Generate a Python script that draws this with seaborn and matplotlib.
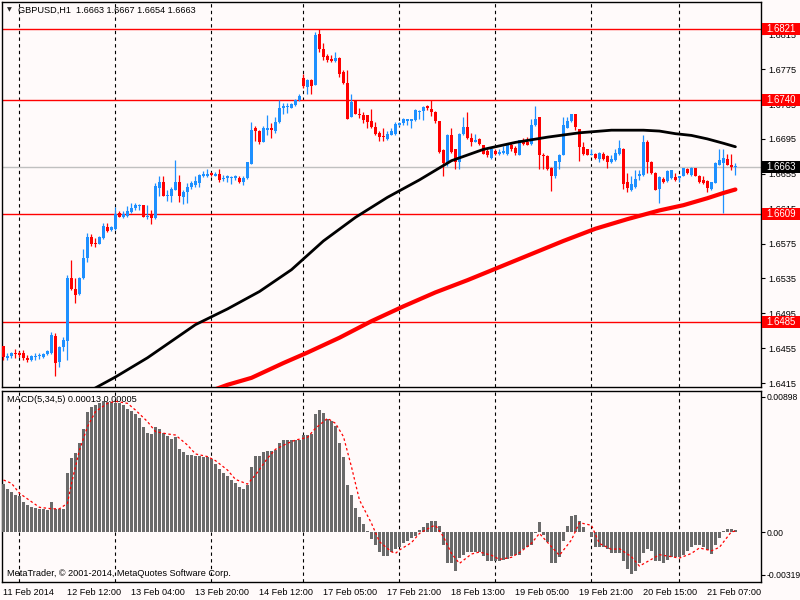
import matplotlib
matplotlib.use("Agg")
import matplotlib.pyplot as plt
import matplotlib.transforms as mtransforms
from matplotlib.patches import Rectangle
import numpy as np
import pandas as pd
import seaborn as sns

# ---- DATA (GBPUSD H1) ----
bar_open = [
    1.6457, 1.6444, 1.6446, 1.6450, 1.6450, 1.6449, 1.6444, 1.6441, 1.6445, 1.6446, 1.6445, 1.6448,
    1.6449, 1.6469, 1.6439, 1.6456, 1.6463, 1.6535, 1.6523, 1.6517, 1.6535, 1.6558, 1.6583, 1.6576,
    1.6574, 1.6581, 1.6594, 1.6590, 1.6592, 1.6610, 1.6606, 1.6607, 1.6611, 1.6616, 1.6618, 1.6619,
    1.6606, 1.6609, 1.6604, 1.6639, 1.6646, 1.6629, 1.6630, 1.6636, 1.6646, 1.6628, 1.6634, 1.6640,
    1.6642, 1.6645, 1.6652, 1.6652, 1.6656, 1.6653, 1.6655, 1.6649, 1.6650, 1.6650, 1.6650, 1.6650,
    1.6646, 1.6650, 1.6666, 1.6707, 1.6704, 1.6691, 1.6705, 1.6707, 1.6704, 1.6714, 1.6731, 1.6732,
    1.6731, 1.6734, 1.6740, 1.6765, 1.6755, 1.6763, 1.6757, 1.6815, 1.6798, 1.6790, 1.6787, 1.6784,
    1.6788, 1.6772, 1.6759, 1.6720, 1.6738, 1.6724, 1.6722, 1.6722, 1.6716, 1.6709, 1.6702, 1.6698,
    1.6695, 1.6700, 1.6701, 1.6711, 1.6713, 1.6716, 1.6716, 1.6717, 1.6726, 1.6727, 1.6733, 1.6729,
    1.6726, 1.6716, 1.6682, 1.6666, 1.6699, 1.6683, 1.6669, 1.6701, 1.6709, 1.6696, 1.6692, 1.6695,
    1.6688, 1.6681, 1.6673, 1.6681, 1.6678, 1.6679, 1.6678, 1.6688, 1.6685, 1.6677, 1.6694, 1.6691,
    1.6689, 1.6711, 1.6720, 1.6677, 1.6675, 1.6662, 1.6652, 1.6669, 1.6677, 1.6708, 1.6715, 1.6724,
    1.6706, 1.6686, 1.6683, 1.6677, 1.6678, 1.6672, 1.6678, 1.6675, 1.6668, 1.6671, 1.6678, 1.6684,
    1.6646, 1.6636, 1.6640, 1.6652, 1.6654, 1.6692, 1.6669, 1.6656, 1.6638, 1.6649, 1.6647, 1.6650,
    1.6651, 1.6650, 1.6652, 1.6660, 1.6654, 1.6662, 1.6653, 1.6648, 1.6647, 1.6637, 1.6645, 1.6665,
    1.6667, 1.6672, 1.6665, 1.6663,
]
bar_high = [
    1.6458, 1.6449, 1.6451, 1.6454, 1.6452, 1.6453, 1.6447, 1.6447, 1.6449, 1.6449, 1.6450, 1.6453,
    1.6473, 1.6472, 1.6458, 1.6468, 1.6539, 1.6556, 1.6535, 1.6537, 1.6569, 1.6587, 1.6586, 1.6581,
    1.6584, 1.6598, 1.6598, 1.6595, 1.6617, 1.6612, 1.6612, 1.6618, 1.6622, 1.6622, 1.6620, 1.6619,
    1.6619, 1.6613, 1.6644, 1.6652, 1.6652, 1.6636, 1.6640, 1.6671, 1.6654, 1.6636, 1.6644, 1.6647,
    1.6652, 1.6655, 1.6658, 1.6661, 1.6657, 1.6657, 1.6661, 1.6654, 1.6654, 1.6653, 1.6654, 1.6653,
    1.6652, 1.6668, 1.6714, 1.6710, 1.6705, 1.6710, 1.6722, 1.6713, 1.6720, 1.6740, 1.6736, 1.6736,
    1.6736, 1.6741, 1.6746, 1.6769, 1.6764, 1.6764, 1.6818, 1.6821, 1.6805, 1.6792, 1.6791, 1.6795,
    1.6789, 1.6774, 1.6774, 1.6746, 1.6740, 1.6730, 1.6726, 1.6722, 1.6729, 1.6714, 1.6704, 1.6707,
    1.6704, 1.6707, 1.6714, 1.6714, 1.6719, 1.6718, 1.6718, 1.6729, 1.6728, 1.6733, 1.6734, 1.6740,
    1.6727, 1.6716, 1.6683, 1.6701, 1.6707, 1.6684, 1.6702, 1.6720, 1.6726, 1.6702, 1.6701, 1.6696,
    1.6688, 1.6683, 1.6685, 1.6683, 1.6684, 1.6687, 1.6689, 1.6690, 1.6687, 1.6694, 1.6696, 1.6697,
    1.6718, 1.6733, 1.6720, 1.6679, 1.6676, 1.6663, 1.6670, 1.6678, 1.6720, 1.6720, 1.6724, 1.6724,
    1.6706, 1.6692, 1.6684, 1.6683, 1.6679, 1.6680, 1.6680, 1.6676, 1.6676, 1.6683, 1.6694, 1.6685,
    1.6656, 1.6653, 1.6659, 1.6659, 1.6700, 1.6694, 1.6670, 1.6657, 1.6652, 1.6651, 1.6659, 1.6659,
    1.6656, 1.6653, 1.6662, 1.6662, 1.6663, 1.6662, 1.6654, 1.6653, 1.6648, 1.6646, 1.6669, 1.6684,
    1.6684, 1.6678, 1.6678, 1.6667,
]
bar_low = [
    1.6441, 1.6441, 1.6444, 1.6444, 1.6445, 1.6442, 1.6439, 1.6440, 1.6442, 1.6443, 1.6444, 1.6447,
    1.6448, 1.6423, 1.6434, 1.6452, 1.6441, 1.6522, 1.6507, 1.6516, 1.6534, 1.6554, 1.6572, 1.6571,
    1.6574, 1.6580, 1.6588, 1.6589, 1.6590, 1.6605, 1.6604, 1.6606, 1.6610, 1.6613, 1.6613, 1.6606,
    1.6603, 1.6597, 1.6603, 1.6630, 1.6629, 1.6624, 1.6623, 1.6636, 1.6623, 1.6620, 1.6621, 1.6637,
    1.6640, 1.6640, 1.6651, 1.6651, 1.6653, 1.6652, 1.6646, 1.6647, 1.6646, 1.6643, 1.6648, 1.6644,
    1.6642, 1.6649, 1.6666, 1.6693, 1.6689, 1.6691, 1.6700, 1.6696, 1.6702, 1.6713, 1.6723, 1.6725,
    1.6730, 1.6733, 1.6739, 1.6753, 1.6747, 1.6747, 1.6757, 1.6795, 1.6785, 1.6783, 1.6783, 1.6783,
    1.6766, 1.6758, 1.6718, 1.6720, 1.6724, 1.6719, 1.6713, 1.6707, 1.6708, 1.6700, 1.6693, 1.6693,
    1.6694, 1.6699, 1.6700, 1.6710, 1.6711, 1.6711, 1.6708, 1.6716, 1.6718, 1.6717, 1.6728, 1.6721,
    1.6713, 1.6679, 1.6653, 1.6664, 1.6679, 1.6660, 1.6661, 1.6700, 1.6695, 1.6687, 1.6691, 1.6688,
    1.6678, 1.6674, 1.6672, 1.6677, 1.6677, 1.6678, 1.6676, 1.6681, 1.6677, 1.6676, 1.6688, 1.6688,
    1.6688, 1.6710, 1.6661, 1.6661, 1.6659, 1.6635, 1.6650, 1.6660, 1.6676, 1.6707, 1.6714, 1.6705,
    1.6670, 1.6677, 1.6676, 1.6676, 1.6672, 1.6669, 1.6671, 1.6662, 1.6667, 1.6670, 1.6677, 1.6638,
    1.6634, 1.6635, 1.6639, 1.6648, 1.6652, 1.6656, 1.6655, 1.6636, 1.6622, 1.6645, 1.6646, 1.6649,
    1.6647, 1.6646, 1.6652, 1.6655, 1.6653, 1.6652, 1.6645, 1.6643, 1.6634, 1.6636, 1.6644, 1.6665,
    1.6610, 1.6665, 1.6659, 1.6654,
]
bar_close = [
    1.6445, 1.6446, 1.6450, 1.6448, 1.6447, 1.6444, 1.6441, 1.6446, 1.6446, 1.6447, 1.6448, 1.6452,
    1.6470, 1.6438, 1.6456, 1.6464, 1.6535, 1.6523, 1.6516, 1.6536, 1.6558, 1.6583, 1.6574, 1.6574,
    1.6582, 1.6595, 1.6589, 1.6594, 1.6609, 1.6606, 1.6609, 1.6612, 1.6616, 1.6619, 1.6619, 1.6606,
    1.6607, 1.6604, 1.6641, 1.6646, 1.6630, 1.6631, 1.6638, 1.6646, 1.6629, 1.6634, 1.6640, 1.6644,
    1.6647, 1.6654, 1.6655, 1.6655, 1.6654, 1.6655, 1.6648, 1.6650, 1.6652, 1.6651, 1.6652, 1.6646,
    1.6650, 1.6668, 1.6705, 1.6704, 1.6691, 1.6707, 1.6707, 1.6705, 1.6714, 1.6730, 1.6733, 1.6733,
    1.6735, 1.6740, 1.6744, 1.6756, 1.6762, 1.6756, 1.6814, 1.6798, 1.6789, 1.6785, 1.6784, 1.6788,
    1.6769, 1.6759, 1.6718, 1.6737, 1.6724, 1.6722, 1.6717, 1.6714, 1.6709, 1.6701, 1.6697, 1.6697,
    1.6701, 1.6704, 1.6712, 1.6713, 1.6718, 1.6718, 1.6718, 1.6728, 1.6727, 1.6732, 1.6730, 1.6726,
    1.6716, 1.6680, 1.6667, 1.6700, 1.6680, 1.6669, 1.6701, 1.6709, 1.6696, 1.6692, 1.6694, 1.6689,
    1.6678, 1.6676, 1.6683, 1.6678, 1.6680, 1.6681, 1.6688, 1.6683, 1.6679, 1.6694, 1.6689, 1.6688,
    1.6711, 1.6718, 1.6677, 1.6675, 1.6661, 1.6652, 1.6670, 1.6677, 1.6711, 1.6715, 1.6724, 1.6709,
    1.6686, 1.6678, 1.6677, 1.6678, 1.6673, 1.6679, 1.6672, 1.6668, 1.6672, 1.6679, 1.6685, 1.6643,
    1.6639, 1.6643, 1.6649, 1.6655, 1.6691, 1.6668, 1.6656, 1.6636, 1.6651, 1.6646, 1.6658, 1.6659,
    1.6648, 1.6652, 1.6662, 1.6656, 1.6662, 1.6653, 1.6646, 1.6645, 1.6639, 1.6646, 1.6667, 1.6671,
    1.6673, 1.6665, 1.6663, 1.6663,
]

# moving averages, read at a few bars
ma_black_bar = [20, 28, 36, 48, 56, 64, 72, 80, 88, 96, 104, 112, 120, 128, 136, 144, 152, 160,
                164, 168, 172, 176, 180, 183]
ma_black_val = [1.6402, 1.6422, 1.6444, 1.6482, 1.6500, 1.6520, 1.6545, 1.6578, 1.6605, 1.6628, 1.6648,
                1.6670, 1.6683, 1.6691, 1.6697, 1.6702, 1.6705, 1.6705, 1.6704, 1.6701, 1.6699, 1.6695,
                1.6690, 1.6686]
ma_red_bar = [50, 56, 62, 70, 76, 84, 92, 100, 108, 116, 124, 132, 140, 148, 156, 164, 170, 176, 180, 183]
ma_red_val = [1.6403, 1.6413, 1.6421, 1.6438, 1.6450, 1.6467, 1.6486, 1.6503, 1.6519, 1.6533, 1.6548,
              1.6563, 1.6578, 1.6592, 1.6603, 1.6613, 1.6619, 1.6627, 1.6633, 1.6637]

# MACD(5,34,5) histogram per bar
macd_hist = [
    0.00307, 0.00278, 0.00256, 0.00235, 0.00231, 0.00192, 0.00175, 0.00162, 0.00154, 0.00145, 0.00145, 0.00141,
    0.00192, 0.00149, 0.00145, 0.00149, 0.00380, 0.00474, 0.00508, 0.00572, 0.00658, 0.00769, 0.00803, 0.00811,
    0.00824, 0.00841, 0.00833, 0.00833, 0.00828, 0.00824, 0.00811, 0.00790, 0.00773, 0.00756, 0.00730, 0.00675,
    0.00632, 0.00628, 0.00670, 0.00658, 0.00632, 0.00615, 0.00598, 0.00606, 0.00534, 0.00512, 0.00495, 0.00491,
    0.00487, 0.00487, 0.00483, 0.00478, 0.00470, 0.00436, 0.00406, 0.00380, 0.00359, 0.00333, 0.00312, 0.00290,
    0.00273, 0.00303, 0.00418, 0.00487, 0.00487, 0.00512, 0.00517, 0.00517, 0.00525, 0.00568, 0.00589, 0.00589,
    0.00589, 0.00589, 0.00589, 0.00623, 0.00619, 0.00628, 0.00756, 0.00781, 0.00760, 0.00722, 0.00709, 0.00679,
    0.00572, 0.00478, 0.00299, 0.00235, 0.00154, 0.00098, 0.00051, 0.00009, -0.00043, -0.00085, -0.00128, -0.00154,
    -0.00154, -0.00128, -0.00111, -0.00094, -0.00073, -0.00056, -0.00038, -0.00026, 0.00013, 0.00034, 0.00060, 0.00073,
    0.00073, 0.00038, -0.00085, -0.00196, -0.00201, -0.00252, -0.00167, -0.00149, -0.00128, -0.00128, -0.00128, -0.00128,
    -0.00154, -0.00188, -0.00184, -0.00184, -0.00188, -0.00179, -0.00171, -0.00154, -0.00145, -0.00145, -0.00111, -0.00098,
    -0.00081, -0.00009, 0.00064, -0.00021, -0.00064, -0.00201, -0.00201, -0.00162, -0.00060, 0.00038, 0.00102, 0.00111,
    0.00073, 0.00030, 0.00000, -0.00034, -0.00098, -0.00094, -0.00098, -0.00107, -0.00132, -0.00137, -0.00132, -0.00188,
    -0.00239, -0.00269, -0.00252, -0.00196, -0.00137, -0.00107, -0.00120, -0.00188, -0.00188, -0.00196, -0.00179, -0.00162,
    -0.00162, -0.00162, -0.00145, -0.00124, -0.00098, -0.00085, -0.00085, -0.00094, -0.00115, -0.00141, -0.00081, -0.00038,
    0.00009, 0.00017, 0.00017, 0.00013,
]
# MACD signal line, read at a few bars
signal_bar = [0, 2, 4, 7, 9, 12, 14, 16, 17, 19, 21, 23, 26, 28, 31, 33, 36, 38, 41, 43, 46, 48, 51, 53,
              56, 58, 61, 63, 66, 68, 71, 73, 76, 78, 81, 83, 85, 87, 89, 92, 94, 97, 98, 99, 102, 104,
              107, 108, 110, 112, 114, 117, 119, 122, 124, 127, 129, 132, 134, 137, 139, 142, 144, 147,
              149, 152, 154, 157, 159, 162, 164, 167, 169, 172, 174, 177, 179, 182, 183]
signal_val = [0.00333, 0.00312, 0.00248, 0.00194, 0.00158, 0.00149, 0.00149, 0.00184, 0.00312, 0.00525,
              0.00675, 0.00771, 0.00824, 0.00837, 0.00824, 0.00781, 0.00707, 0.00643, 0.00628, 0.00621,
              0.00557, 0.00500, 0.00483, 0.00457, 0.00397, 0.00337, 0.00307, 0.00365, 0.00472, 0.00530,
              0.00568, 0.00589, 0.00606, 0.00664, 0.00728, 0.00696, 0.00611, 0.00418, 0.00205, 0.00056,
              -0.00062, -0.00126, -0.00137, -0.00115, -0.00068, -0.00009, 0.00034, 0.00043, -0.00030,
              -0.00137, -0.00201, -0.00141, -0.00128, -0.00149, -0.00175, -0.00162, -0.00132, -0.00073,
              -0.00009, -0.00094, -0.00149, -0.00051, 0.00060, 0.00043, -0.00073, -0.00111, -0.00107,
              -0.00158, -0.00218, -0.00175, -0.00145, -0.00158, -0.00167, -0.00137, -0.00102, -0.00120,
              -0.00098, 0.00002, 0.00005]

# horizontal levels and labels
red_levels = [1.6821, 1.6740, 1.6609, 1.6485]
bid_level = 1.6663
price_ticks = [1.6815, 1.6775, 1.6735, 1.6695, 1.6655, 1.6615, 1.6575, 1.6535, 1.6495, 1.6455, 1.6415]
grid_bars = [4, 28, 52, 75, 99, 123, 147, 169]
date_bars = [0, 16, 32, 48, 64, 80, 96, 112, 128, 144, 160, 176]
date_labels = ['11 Feb 2014', '12 Feb 12:00', '13 Feb 04:00', '13 Feb 20:00', '14 Feb 12:00', '17 Feb 05:00',
               '17 Feb 21:00', '18 Feb 13:00', '19 Feb 05:00', '19 Feb 21:00', '20 Feb 15:00', '21 Feb 07:00']
macd_ticks = [0.00865, 0.0, -0.00275]
macd_tick_labels = ['0.00898', '0.00', '-0.00319']

# ---- STYLE ----
sns.set_style("white")
plt.rcParams['font.family'] = ['Liberation Sans', 'DejaVu Sans']
BG = '#FFFAFA'
BULL = '#1E90FF'
BEAR = '#FF0000'
FS = 6.6

df = pd.DataFrame({'open': bar_open, 'high': bar_high, 'low': bar_low, 'close': bar_close})
df['bar'] = np.arange(len(df))
df['color'] = np.where(df['close'] >= df['open'], BULL, BEAR)
df['body_low'] = df[['open', 'close']].min(axis=1)
df['body_h'] = (df['close'] - df['open']).abs().clip(lower=0.0001)

fig = plt.figure(figsize=(8, 6), dpi=100, facecolor=BG)
ax = fig.add_axes([2 / 800, 1 - 387 / 600, 759 / 800, 385 / 600], facecolor=BG)
axm = fig.add_axes([2 / 800, 1 - 582 / 600, 759 / 800, 191 / 600], facecolor=BG)

xlim = (-0.375, 189.4)

# ---- PRICE PANEL ----
for b in grid_bars:
    ax.axvline(b, color='black', lw=0.8, ls=(0, (3, 3)), zorder=1)
    axm.axvline(b, color='black', lw=0.8, ls=(0, (3, 3)), zorder=1)
for lvl in red_levels:
    ax.axhline(lvl, color='red', lw=1, zorder=2)
ax.axhline(bid_level, color='#C0C0C0', lw=1, zorder=2)

ax.vlines(df['bar'], df['low'], df['high'], colors=df['color'], lw=0.9, zorder=3)
ax.bar(df['bar'], df['body_h'], bottom=df['body_low'], width=0.75, color=df['color'], lw=0, zorder=4)

sns.lineplot(x=ma_black_bar, y=ma_black_val, ax=ax, color='black', lw=2, zorder=5, legend=False)
sns.lineplot(x=ma_red_bar, y=ma_red_val, ax=ax, color='red', lw=3, zorder=5, legend=False)

ax.set_xlim(*xlim)
ax.set_ylim(1.64105, 1.68520)
ax.set_xticks([])
ax.yaxis.tick_right()
ax.set_yticks(price_ticks)
ax.set_yticklabels([f"{t:.4f}" for t in price_ticks])
ax.tick_params(axis='y', direction='out', length=3, width=0.8, pad=2, labelsize=FS, colors='black')
ax.set_xlabel('')
ax.set_ylabel('')
for s in ax.spines.values():
    s.set_color('black')
    s.set_linewidth(1)

trans = mtransforms.blended_transform_factory(ax.transAxes, ax.transData)
box_levels = red_levels + [bid_level]
box_colors = ['#FF0000'] * len(red_levels) + ['#000000']
for lvl, col in zip(box_levels, box_colors):
    ax.add_patch(Rectangle((1.0013, lvl - 0.00070), 0.06, 0.00140, transform=trans,
                           facecolor=col, edgecolor='none', clip_on=False, zorder=10))
    ax.text(1.0065, lvl, f"{lvl:.4f}", transform=trans, color='white', fontsize=FS + 0.3,
            va='center', ha='left', zorder=11, clip_on=False)

ax.text(0.007, 0.979, '\u25bc', transform=ax.transAxes, fontsize=4.5, va='center', ha='left',
        family=['DejaVu Sans'])
ax.text(0.021, 0.979, 'GBPUSD,H1  1.6663 1.6667 1.6654 1.6663', transform=ax.transAxes,
        fontsize=FS, va='center', ha='left', color='black')

# ---- MACD PANEL ----
axm.bar(np.arange(len(macd_hist)), macd_hist, width=0.75, color='#6A6A6A', lw=0, zorder=3)
sns.lineplot(x=signal_bar, y=signal_val, ax=axm, color='red', lw=0.9, ls=(0, (2, 2)), zorder=4, legend=False)
axm.set_xlim(*xlim)
axm.set_ylim(-0.0032, 0.00903)
axm.yaxis.tick_right()
axm.set_yticks(macd_ticks)
axm.set_yticklabels(macd_tick_labels)
axm.set_xticks(date_bars)
axm.set_xticklabels(date_labels, ha='left')
axm.tick_params(axis='y', direction='out', length=3, width=0.8, pad=1, labelsize=6.2, colors='black')
axm.tick_params(axis='x', direction='out', length=3, width=0.8, pad=1.5, labelsize=FS, colors='black')
axm.set_xlabel('')
axm.set_ylabel('')
for s in axm.spines.values():
    s.set_color('black')
    s.set_linewidth(1)

axm.text(0.006, 0.958, 'MACD(5,34,5) 0.00013 0.00005', transform=axm.transAxes, fontsize=FS,
         va='center', ha='left', color='black')
axm.text(0.006, 0.042, 'MetaTrader, \u00a9 2001-2014, MetaQuotes Software Corp.', transform=axm.transAxes,
         fontsize=FS, va='center', ha='left', color='black')

fig.savefig('out.png', dpi=100, facecolor=BG)
